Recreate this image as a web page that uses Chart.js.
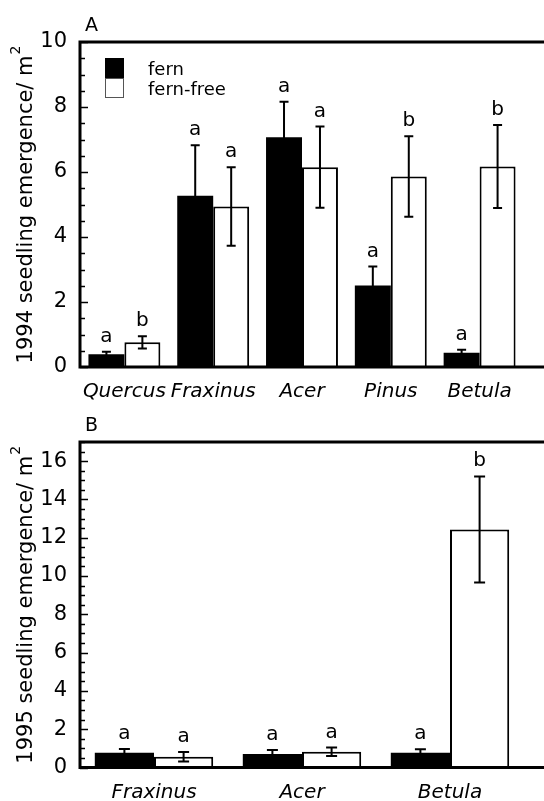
<!DOCTYPE html>
<html lang="en">
<head>
  <meta charset="UTF-8" />
  <title>Seedling emergence, fern vs fern-free</title>
  <style>
    body { margin: 0; background: #fff; overflow: hidden; }
    .panel { position: absolute; left: 0; width: 544px; }
    #panelA { top: 0; height: 405px; }
    #panelB { top: 400px; height: 401px; }
  </style>
  <script src="https://cdn.jsdelivr.net/npm/chart.js"></script>
</head>
<body>
  <div class="panel" id="panelA"><canvas id="chartA" width="544" height="405"></canvas></div>
  <div class="panel" id="panelB"><canvas id="chartB" width="544" height="401"></canvas></div>

  <script>
    // panel A: 1994
    const speciesA = ["Quercus", "Fraxinus", "Acer", "Pinus", "Betula"];
    const fernA = [0.39, 5.27, 7.07, 2.51, 0.44];
    const fernErrA = [0.08, 1.55, 1.09, 0.58, 0.09];
    const freeA = [0.76, 4.94, 6.15, 5.86, 6.17];
    const freeErrA = [0.19, 1.21, 1.25, 1.24, 1.28];
    const fernLettersA = ["a", "a", "a", "a", "a"];
    const freeLettersA = ["b", "a", "a", "b", "b"];
    const ticksA = [0, 2, 4, 6, 8, 10];

    // panel B: 1995
    const speciesB = ["Fraxinus", "Acer", "Betula"];
    const fernB = [0.77, 0.70, 0.77];
    const fernErrB = [0.19, 0.21, 0.18];
    const freeB = [0.56, 0.82, 12.43];
    const freeErrB = [0.25, 0.22, 2.77];
    const fernLettersB = ["a", "a", "a"];
    const freeLettersB = ["a", "a", "b"];
    const ticksB = [0, 2, 4, 6, 8, 10, 12, 14, 16];

    const FONT = '"DejaVu Sans", sans-serif';

    // error bars, significance letters, frame with inward ticks, legend, titles
    const extras = {
      id: "extras",
      afterDatasetsDraw(chart, args, opts) {
        const ctx = chart.ctx;
        const y = chart.scales.y;
        ctx.save();
        ctx.strokeStyle = "#000";
        ctx.fillStyle = "#000";
        ctx.lineWidth = 2;
        ctx.font = "20px " + FONT;
        ctx.textAlign = "center";
        ctx.textBaseline = "alphabetic";
        chart.data.datasets.forEach((ds, i) => {
          chart.getDatasetMeta(i).data.forEach((bar, j) => {
            const v = ds.data[j];
            const e = opts.errors[i][j];
            const top = y.getPixelForValue(v + e);
            const bot = y.getPixelForValue(v - e);
            const c = opts.cap / 2;
            ctx.beginPath();
            ctx.moveTo(bar.x, top); ctx.lineTo(bar.x, bot);
            ctx.moveTo(bar.x - c, top); ctx.lineTo(bar.x + c, top);
            ctx.moveTo(bar.x - c, bot); ctx.lineTo(bar.x + c, bot);
            ctx.stroke();
            ctx.fillText(opts.letters[i][j], bar.x, top - 10);
          });
        });
        ctx.restore();
      },
      afterDraw(chart, args, opts) {
        const ctx = chart.ctx;
        const a = chart.chartArea;
        const y = chart.scales.y;
        ctx.save();
        ctx.strokeStyle = "#000";
        ctx.lineWidth = 1.5;
        // inward ticks every 0.5, longer on labelled values
        for (let v = y.min; v <= y.max + 1e-9; v += 0.5) {
          const py = Math.round(y.getPixelForValue(v)) + 0.5;
          const len = v % 2 === 0 ? 8 : 5;
          ctx.beginPath();
          ctx.moveTo(a.left, py);
          ctx.lineTo(a.left + len, py);
          ctx.stroke();
        }
        // frame: left, top and bottom run to the canvas edge
        ctx.lineWidth = 3;
        ctx.beginPath();
        ctx.moveTo(chart.width, a.top);
        ctx.lineTo(a.left, a.top);
        ctx.lineTo(a.left, a.bottom);
        ctx.lineTo(chart.width, a.bottom);
        ctx.stroke();

        // panel letter
        ctx.fillStyle = "#000";
        ctx.font = "19px " + FONT;
        ctx.textAlign = "left";
        ctx.textBaseline = "alphabetic";
        ctx.fillText(opts.panel, 85, 31);

        // y title with superscript
        ctx.save();
        ctx.translate(32, (a.top + a.bottom) / 2);
        ctx.rotate(-Math.PI / 2);
        ctx.font = "21px " + FONT;
        const main = opts.yTitle;
        const wMain = ctx.measureText(main).width;
        ctx.font = "14px " + FONT;
        const wSup = ctx.measureText("2").width;
        const x0 = -(wMain + wSup + 1) / 2;
        ctx.font = "21px " + FONT;
        ctx.fillText(main, x0, 0);
        ctx.font = "14px " + FONT;
        ctx.fillText("2", x0 + wMain + 1, -12);
        ctx.restore();

        // legend inside the plot
        if (opts.legend) {
          const ds = chart.data.datasets;
          ctx.fillStyle = "#000";
          ctx.fillRect(105, 58, 19, 20);
          ctx.strokeStyle = "#555";
          ctx.lineWidth = 1;
          ctx.strokeRect(105.5, 78.5, 18, 19);
          ctx.fillStyle = "#000";
          ctx.font = "18px " + FONT;
          ctx.fillText(ds[0].label, 148, 75);
          ctx.fillText(ds[1].label, 148, 95);
        }
        ctx.restore();
      }
    };

    function makeChart(id, labels, fern, free, yMax, yTicks, pad, xHeight, catPct, extraOpts) {
      return new Chart(document.getElementById(id), {
        type: "bar",
        data: {
          labels: labels,
          datasets: [
            { label: "fern", data: fern, backgroundColor: "#000", borderColor: "#000", borderWidth: 0 },
            { label: "fern-free", data: free, backgroundColor: "#fff", borderColor: "#000", borderWidth: 2 }
          ]
        },
        options: {
          responsive: false,
          animation: false,
          layout: { padding: pad },
          datasets: { bar: { categoryPercentage: catPct, barPercentage: 1 } },
          plugins: {
            legend: { display: false },
            tooltip: { enabled: false },
            extras: extraOpts
          },
          scales: {
            x: {
              grid: { display: false, drawTicks: false, tickLength: 0 },
              border: { display: false },
              ticks: {
                color: "#000",
                padding: 13,
                autoSkip: false,
                maxRotation: 0,
                font: { family: FONT, size: 20, style: "italic" }
              },
              afterFit: (s) => { s.height = xHeight; }
            },
            y: {
              min: 0,
              max: yMax,
              grid: { display: false, drawTicks: false, tickLength: 0 },
              border: { display: false },
              afterBuildTicks: (s) => { s.ticks = yTicks.map((v) => ({ value: v })); },
              ticks: {
                color: "#000",
                padding: 13,
                font: { family: FONT, size: 21 }
              },
              afterFit: (s) => { s.width = 80; }
            }
          }
        },
        plugins: [extras]
      });
    }

    makeChart("chartA", speciesA, fernA, freeA, 10, ticksA,
      { top: 42, right: 20, bottom: 0, left: 0 }, 38, 0.81, {
        panel: "A",
        yTitle: "1994 seedling emergence/ m",
        errors: [fernErrA, freeErrA],
        letters: [fernLettersA, freeLettersA],
        cap: 9,
        legend: true
      });

    makeChart("chartB", speciesB, fernB, freeB, 17, ticksB,
      { top: 42, right: 20, bottom: 0, left: 0 }, 33.5, 0.80, {
        panel: "B",
        yTitle: "1995 seedling emergence/ m",
        errors: [fernErrB, freeErrB],
        letters: [fernLettersB, freeLettersB],
        cap: 11,
        legend: false
      });
  </script>
</body>
</html>
